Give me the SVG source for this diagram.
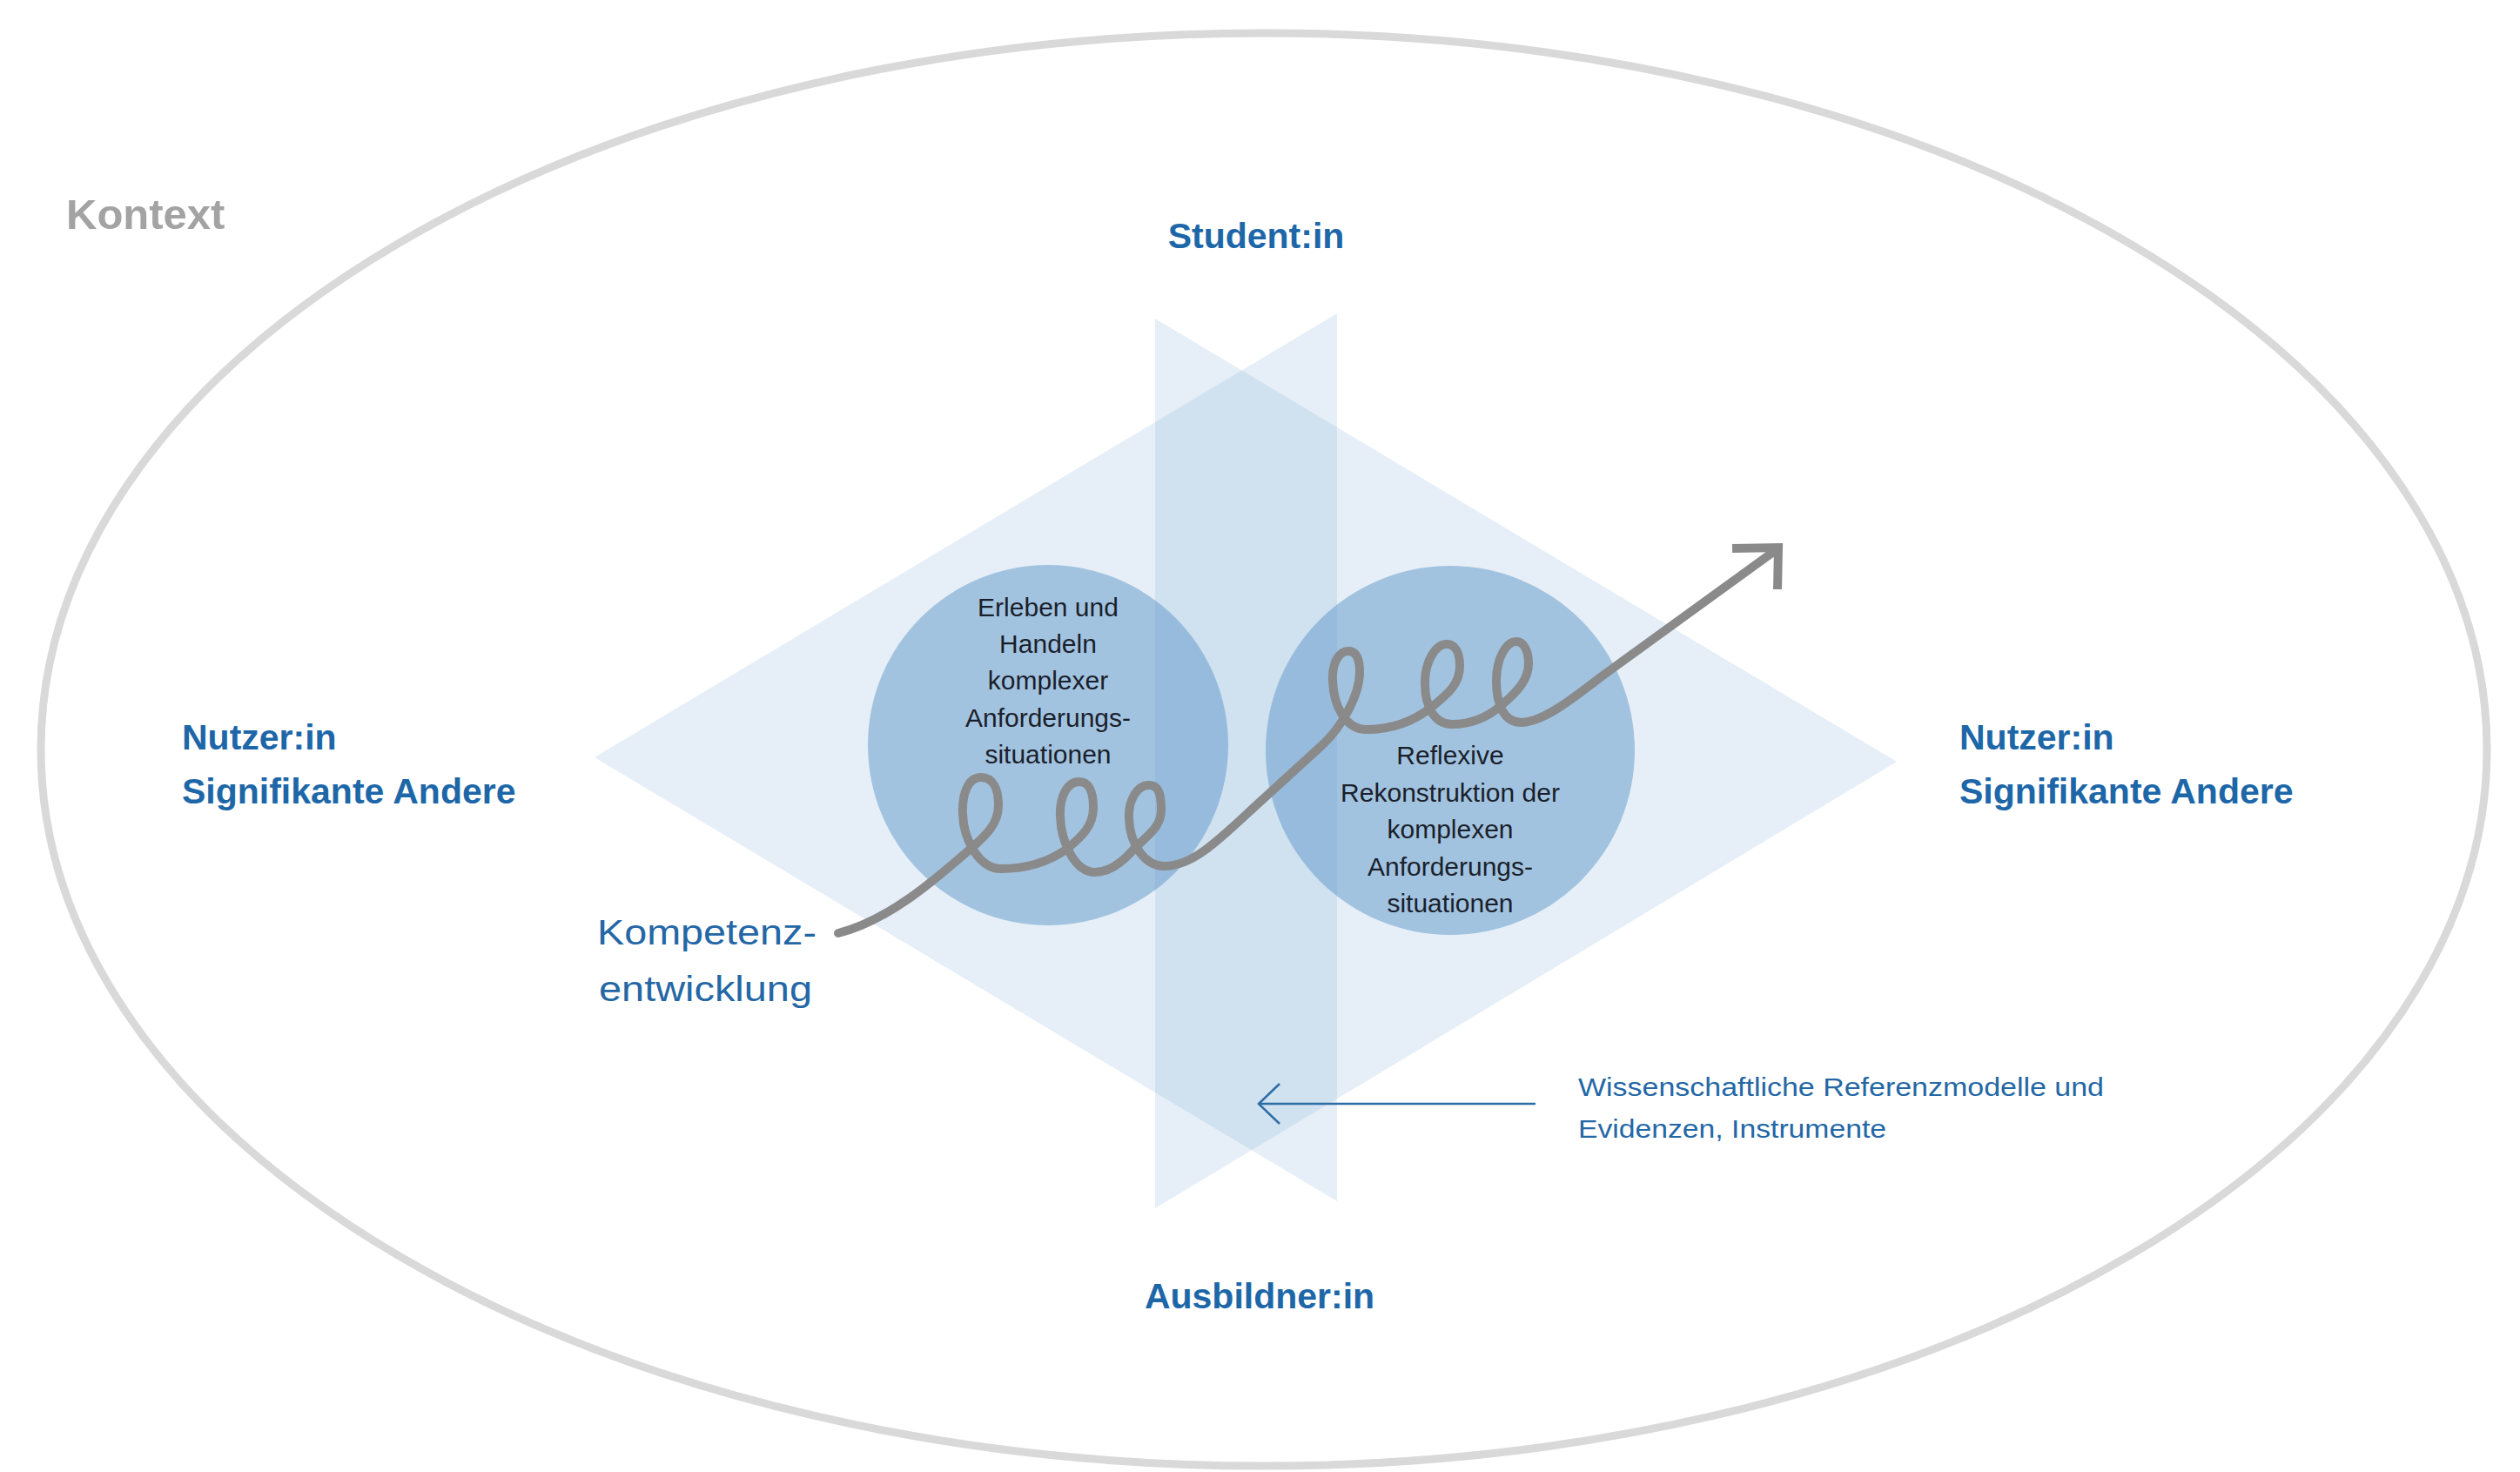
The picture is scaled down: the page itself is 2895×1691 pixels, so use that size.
<svg xmlns="http://www.w3.org/2000/svg" width="2895" height="1691" viewBox="0 0 2895 1691">
  <style>
    .bold { font-family: "Liberation Sans", Arial, sans-serif; font-weight: bold; }
    .reg { font-family: "Liberation Sans", Arial, sans-serif; }
    .role { fill: #1d67a8; font-size: 41px; }
    .ctx { fill: #a3a3a3; font-size: 49px; }
    .inner { fill: #1a1f2b; font-size: 30px; text-anchor: middle; }
    .note { fill: #2467a6; }
    .tri { fill: #4f8fc4; fill-opacity: 0.14; }
    .phase { fill: #4f8fc4; fill-opacity: 0.45; }
  </style>
  <defs>
    <!-- open chevron, tip at the end of the line -->
    <marker id="openHead" viewBox="0 0 30 50" refX="28" refY="25" markerWidth="30" markerHeight="50" markerUnits="userSpaceOnUse" orient="auto">
      <path d="M4,2 L28,25 L4,48" fill="none" stroke="#2d6da6" stroke-width="2.5"/>
    </marker>
  </defs>
  <rect width="2895" height="1691" fill="#ffffff"/>

  <!-- context boundary -->
  <g id="kontext">
    <ellipse cx="1452" cy="861" rx="1405" ry="823" fill="none" stroke="#d9d9d9" stroke-width="9"/>
    <text class="bold ctx" x="76" y="263">Kontext</text>
  </g>

  <!-- overlapping triangles -->
  <g id="triangles">
    <polygon class="tri" points="1327,366 1327,1388 2179,875"/>
    <polygon class="tri" points="1536,360 1536,1380 683,870"/>
  </g>

  <!-- role labels -->
  <g id="student">
    <text class="bold role" x="1443" y="285" text-anchor="middle">Student:in</text>
  </g>
  <g id="ausbildner">
    <text class="bold role" x="1447" y="1503" text-anchor="middle">Ausbildner:in</text>
  </g>
  <g id="nutzer-links">
    <text class="bold role" x="209" y="861">Nutzer:in</text>
    <text class="bold role" x="209" y="923">Signifikante Andere</text>
  </g>
  <g id="nutzer-rechts">
    <text class="bold role" x="2251" y="861">Nutzer:in</text>
    <text class="bold role" x="2251" y="923">Signifikante Andere</text>
  </g>

  <!-- phase circles -->
  <g id="erleben">
    <circle class="phase" cx="1204" cy="856" r="207"/>
    <text class="reg inner" x="1204" y="708">Erleben und</text>
    <text class="reg inner" x="1204" y="750">Handeln</text>
    <text class="reg inner" x="1204" y="792">komplexer</text>
    <text class="reg inner" x="1204" y="835">Anforderungs-</text>
    <text class="reg inner" x="1204" y="877">situationen</text>
  </g>
  <g id="reflexion">
    <circle class="phase" cx="1666" cy="862" r="212"/>
    <text class="reg inner" x="1666" y="878">Reflexive</text>
    <text class="reg inner" x="1666" y="921">Rekonstruktion der</text>
    <text class="reg inner" x="1666" y="963">komplexen</text>
    <text class="reg inner" x="1666" y="1006">Anforderungs-</text>
    <text class="reg inner" x="1666" y="1048">situationen</text>
  </g>

  <g id="kompetenz">
    <text class="reg note" x="686" y="1085" font-size="41" textLength="252" lengthAdjust="spacingAndGlyphs">Kompetenz-</text>
    <text class="reg note" x="688" y="1150" font-size="41" textLength="245" lengthAdjust="spacingAndGlyphs">entwicklung</text>
  </g>

  <g id="referenz">
    <text class="reg note" x="1813" y="1259" font-size="30" textLength="604" lengthAdjust="spacingAndGlyphs">Wissenschaftliche Referenzmodelle und</text>
    <text class="reg note" x="1813" y="1307" font-size="30" textLength="354" lengthAdjust="spacingAndGlyphs">Evidenzen, Instrumente</text>
  </g>

  <!-- connectors -->
  <g id="connectors" fill="none">
    <path id="entwicklung-spirale" stroke="#8a8a8a" stroke-width="10" stroke-linecap="round" stroke-linejoin="round"
      d="M963,1072
         C1020,1058 1075,1010 1115,975
         C1135,958 1147,945 1147,925
         C1147,905 1140,893 1127,893
         C1113,893 1105,910 1106,935
         C1107,965 1125,998 1150,998
         C1180,998 1205,990 1226,975
         C1244,960 1256,948 1256,928
         C1256,908 1250,898 1240,898
         C1226,898 1217,915 1218,938
         C1219,968 1235,1002 1258,1002
         C1275,1002 1290,990 1303,975
         C1320,958 1334,950 1334,930
         C1334,910 1330,902 1320,902
         C1306,902 1296,920 1297,940
         C1298,970 1315,995 1338,995
         C1370,995 1400,965 1440,928
         L1520,855
         C1540,836 1562,800 1562,772
         C1562,757 1558,748 1549,748
         C1538,748 1530,762 1531,782
         C1532,810 1545,838 1570,838
         C1600,838 1625,828 1645,812
         C1665,796 1677,785 1677,765
         C1677,750 1672,740 1662,740
         C1650,740 1637,758 1637,785
         C1637,812 1648,832 1668,832
         C1690,832 1708,825 1725,810
         C1745,793 1756,780 1756,762
         C1756,747 1750,737 1742,737
         C1731,737 1719,755 1719,782
         C1719,810 1728,830 1748,830
         C1770,830 1800,808 1840,777
         L2040,632"/>
    <polyline id="spirale-spitze" points="1990,630 2043,629 2042,677" stroke="#8a8a8a" stroke-width="10" stroke-linejoin="miter"/>
    <line id="referenz-pfeil" x1="1764" y1="1268" x2="1446" y2="1268" stroke="#2d6da6" stroke-width="2.5" marker-end="url(#openHead)"/>
  </g>
</svg>
